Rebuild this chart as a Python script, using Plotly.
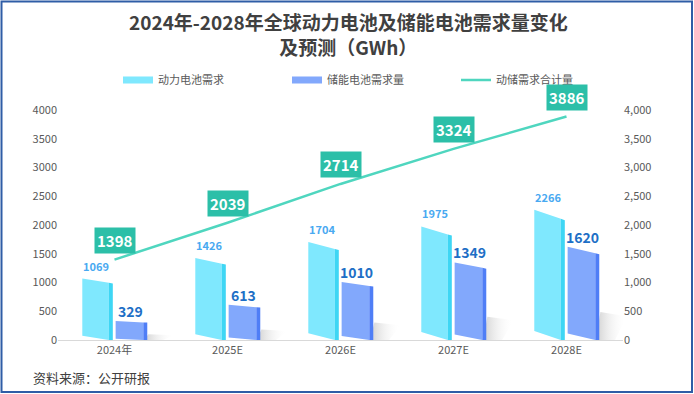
import plotly.graph_objects as go

categories = ["2024年", "2025E", "2026E", "2027E", "2028E"]
power_demand = [1069, 1426, 1704, 1975, 2266]
storage_demand = [329, 613, 1010, 1349, 1620]
total_demand = [1398, 2039, 2714, 3324, 3886]
y_ticks = [0, 500, 1000, 1500, 2000, 2500, 3000, 3500, 4000]

FONT = "Noto Sans CJK SC, Microsoft YaHei, sans-serif"
idx = list(range(len(categories)))
SHEAR = 0.07


def faces(values, x0, x1, side_w):
    """Polygons (front face, side face) for sheared pseudo-3D bars."""
    fx, fy, sx, sy = [], [], [], []
    for i, v in zip(idx, values):
        s = v * SHEAR
        a, b, c = i + x0, i + x1, i + x1 + side_w
        fx += [a, a, b, b, a, None]
        fy += [s, v, v - s, 0, s, None]
        sx += [b, b, c, c, b, None]
        sy += [0, v - s, v - s * 1.15, 0, 0, None]
    return fx, fy, sx, sy


fig = go.Figure()

# legend entries
fig.add_trace(go.Scatter(x=[None], y=[None], name="动力电池需求", mode="lines",
                         line=dict(color="#7FE8FE", width=7)))
fig.add_trace(go.Scatter(x=[None], y=[None], name="储能电池需求量", mode="lines",
                         line=dict(color="#82A8FC", width=7)))

# shadows (one trace per bar so each gets its own gradient)
for i, v in zip(idx, storage_demand):
    h = v * 0.3
    a = i + 0.26
    fig.add_trace(go.Scatter(
        x=[a, a + 0.04, a + 0.27, a + 0.17, a],
        y=[0, h, h * 0.85, 0, 0],
        fill="toself", mode="lines", line=dict(width=0, color="rgba(0,0,0,0)"),
        fillgradient=dict(type="horizontal",
                          colorscale=[[0, "rgba(175,175,175,0.6)"],
                                      [1, "rgba(255,255,255,0)"]]),
        showlegend=False, hoverinfo="skip"))

px_, py_, psx, psy = faces(power_demand, -0.285, -0.05, 0.035)
fig.add_trace(go.Scatter(x=px_, y=py_, fill="toself", fillcolor="#7FE8FE",
                         mode="lines", line=dict(width=0, color="#7FE8FE"),
                         showlegend=False, hoverinfo="skip"))
fig.add_trace(go.Scatter(x=psx, y=psy, fill="toself", fillcolor="#3ED6F4",
                         mode="lines", line=dict(width=0, color="#3ED6F4"),
                         showlegend=False, hoverinfo="skip"))

bx_, by_, bsx, bsy = faces(storage_demand, 0.01, 0.255, 0.035)
fig.add_trace(go.Scatter(x=bx_, y=by_, fill="toself", fillcolor="#82A8FC",
                         mode="lines", line=dict(width=0, color="#82A8FC"),
                         showlegend=False, hoverinfo="skip"))
fig.add_trace(go.Scatter(x=bsx, y=bsy, fill="toself", fillcolor="#4F7EF6",
                         mode="lines", line=dict(width=0, color="#4F7EF6"),
                         showlegend=False, hoverinfo="skip"))

fig.add_trace(go.Scatter(
    x=idx, y=total_demand, name="动储需求合计量", mode="lines",
    line=dict(color="#4FD6BF", width=2.5), yaxis="y2",
))

# value labels
for i, v in zip(idx, power_demand):
    fig.add_annotation(x=i - 0.165, y=v, xref="x", yref="y", text=f"<b>{v}</b>",
                       showarrow=False, yanchor="middle", yshift=13,
                       font=dict(color="#49A9F1", size=11, family=FONT))
for i, v in zip(idx, storage_demand):
    fig.add_annotation(x=i + 0.14, y=v, xref="x", yref="y", text=f"<b>{v}</b>",
                       showarrow=False, yanchor="middle", yshift=10,
                       font=dict(color="#1E6FC6", size=14, family=FONT))

for i, v in zip(idx, total_demand):
    fig.add_annotation(
        x=i, y=v, xref="x", yref="y", text=f"<b>{v}</b>", showarrow=False,
        yshift=19, bgcolor="#2CBFA8", font=dict(color="white", size=15, family=FONT),
        borderpad=2,
    )


def py(p):
    return (340 - p) / 230


def px(p):
    return (p - 58) / 565


fig.add_annotation(
    x=px(348), y=py(34), xref="paper", yref="paper",
    xanchor="center", yanchor="middle", showarrow=False,
    text="<b>2024年-2028年全球动力电池及储能电池需求量变化<br>及预测（GWh）</b>",
    font=dict(size=19, color="#404040", family=FONT),
)

fig.add_annotation(
    x=px(31), y=py(377), xref="paper", yref="paper",
    xanchor="left", yanchor="middle",
    text="资料来源：公开研报", showarrow=False,
    font=dict(size=13, color="#404040", family=FONT),
)

fig.update_layout(
    width=694, height=394,
    margin=dict(l=58, r=71, t=110, b=54, autoexpand=False),
    paper_bgcolor="white", plot_bgcolor="white",
    font=dict(family=FONT, color="#595959"),
    showlegend=True,
    legend=dict(
        orientation="h", x=px(118), xanchor="left",
        y=py(80), yanchor="middle",
        font=dict(size=11, color="#595959"),
        entrywidth=124, entrywidthmode="pixels", traceorder="normal",
    ),
    xaxis=dict(
        range=[-0.5, 4.5], tickvals=idx, ticktext=categories,
        showgrid=False, showline=True, linecolor="#D9D9D9", linewidth=1,
        zeroline=False, ticks="", tickfont=dict(size=11, color="#595959"),
        automargin=False,
    ),
    yaxis=dict(
        range=[0, 4000], tickvals=y_ticks, showgrid=False, zeroline=False,
        tickfont=dict(size=11, color="#595959"), ticksuffix="  ",
        automargin=False,
    ),
    yaxis2=dict(
        range=[0, 4000], tickvals=y_ticks, tickformat=",", overlaying="y", side="right",
        showgrid=False, zeroline=False, tickfont=dict(size=11, color="#595959"),
        tickprefix="   ", automargin=False,
    ),
    shapes=[dict(
        type="rect", xref="paper", yref="paper",
        x0=px(1.5), x1=px(692), y0=py(392), y1=py(1.5),
        line=dict(color="#2F5DA6", width=2), fillcolor="rgba(0,0,0,0)",
    )],
)

fig.write_html(
    "out.html",
    config={"displayModeBar": False},
    post_script="document.body.style.margin='0';document.body.style.overflow='hidden';",
)
